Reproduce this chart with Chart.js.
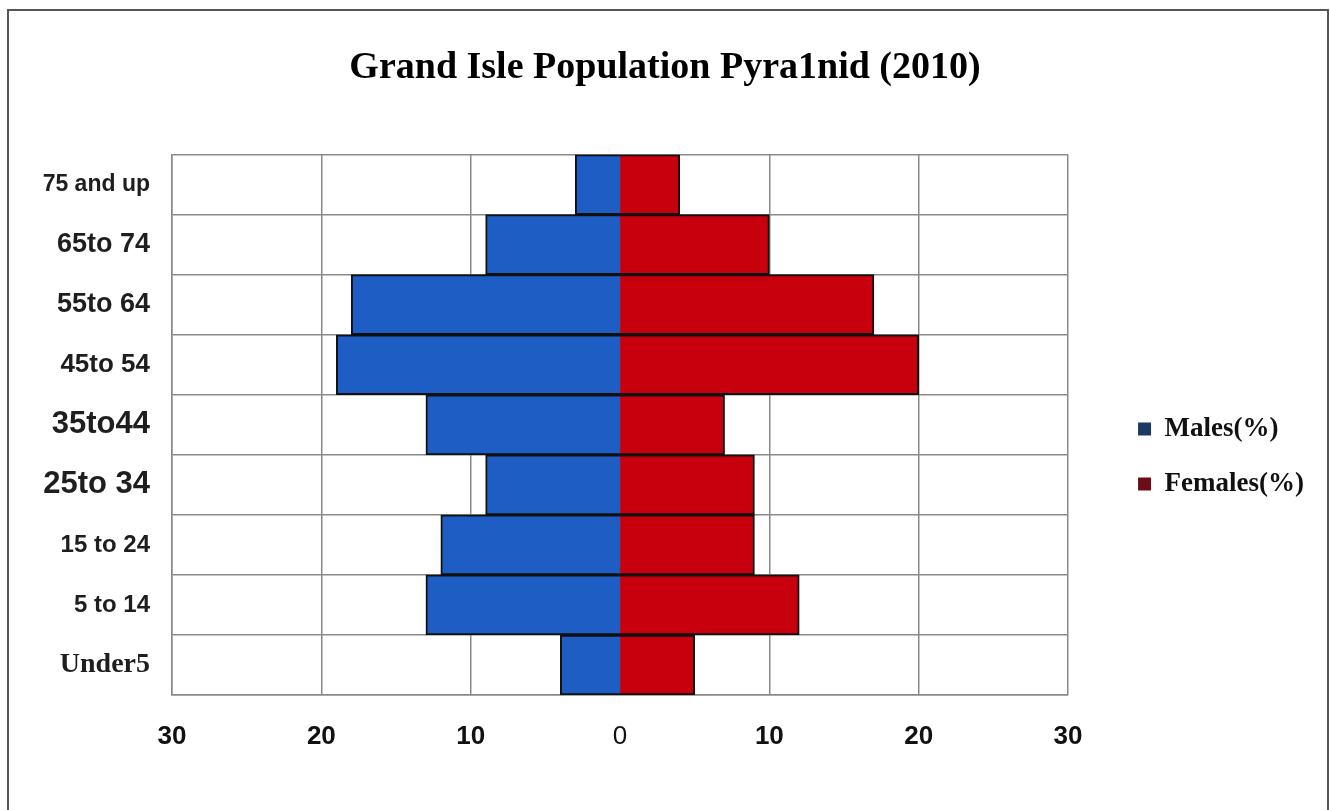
<!DOCTYPE html>
<html>
<head>
<meta charset="utf-8">
<title>Grand Isle Population Pyramid</title>
<script src="https://cdn.jsdelivr.net/npm/chart.js@4.4.1/dist/chart.umd.min.js"></script>
<style>
  html, body { margin: 0; padding: 0; background: #fff; overflow: hidden; }
  #wrap { position: relative; width: 1330px; height: 810px; }
  #frame {
    position: absolute; left: 7px; top: 9px; width: 1318px; height: 900px;
    border: 2px solid #555; pointer-events: none;
  }
</style>
</head>
<body>
<div id="wrap">
  <canvas id="pyramid" width="1330" height="810"></canvas>
  <div id="frame"></div>
</div>
<script>
// age groups, oldest first (top of the pyramid)
const ageGroups = ['75 and up', '65to 74', '55to 64', '45to 54', '35to44', '25to 34', '15 to 24', '5 to 14', 'Under5'];
const malesPct = [3, 9, 18, 19, 13, 9, 12, 13, 4];
const femalesPct = [4, 10, 17, 20, 7, 9, 9, 12, 5];
const xTicks = [-30, -20, -10, 0, 10, 20, 30];

// the scanned labels use a mix of sizes / faces
const ageLabelFonts = [
  { family: 'Liberation Sans', size: 23, weight: 'bold' },
  { family: 'Liberation Sans', size: 27, weight: 'bold' },
  { family: 'Liberation Sans', size: 27, weight: 'bold' },
  { family: 'Liberation Sans', size: 26, weight: 'bold' },
  { family: 'Liberation Sans', size: 31, weight: 'bold' },
  { family: 'Liberation Sans', size: 31, weight: 'bold' },
  { family: 'Liberation Sans', size: 24, weight: 'bold' },
  { family: 'Liberation Sans', size: 24, weight: 'bold' },
  { family: 'Liberation Serif', size: 28, weight: 'bold' }
];
const legendSwatch = ['#1b3962', '#6c0d15'];
const gridColor = '#8a8a8a';
const isZero = c => c.tick && c.tick.value === 0;

const ctx = document.getElementById('pyramid').getContext('2d');
const pyramid = new Chart(ctx, {
  type: 'bar',
  data: {
    labels: ageGroups,
    datasets: [{
      label: 'Males(%)',
      data: malesPct.map(v => -v),
      backgroundColor: '#1e5ec4',
      borderColor: '#111',
      borderWidth: 2
    }, {
      label: 'Females(%)',
      data: femalesPct,
      backgroundColor: '#c8000e',
      borderColor: '#111',
      borderWidth: 2
    }]
  },
  options: {
    indexAxis: 'y',
    responsive: false,
    animation: false,
    barPercentage: 1,
    categoryPercentage: 1,
    layout: { padding: { left: 16, right: 16, top: 0, bottom: 0 } },
    scales: {
      x: {
        stacked: true,
        min: -30,
        max: 30,
        afterBuildTicks: s => { s.ticks = xTicks.map(v => ({ value: v })); },
        afterFit: s => { s.height = 115; },
        grid: {
          // no zero line: the two halves of each bar meet there
          color: c => isZero(c) ? 'rgba(0,0,0,0)' : gridColor,
          lineWidth: c => isZero(c) ? 0 : 1.5,
          drawTicks: false
        },
        border: { color: gridColor, width: 1.5 },
        ticks: {
          padding: 26,
          color: '#111',
          callback: v => Math.abs(v),
          font: c => isZero(c)
            ? { family: 'Liberation Sans', size: 26, weight: 'normal' }
            : { family: 'Liberation Sans', size: 26, weight: 'bold' }
        }
      },
      y: {
        stacked: true,
        afterFit: s => { s.width = 156; },
        grid: { color: gridColor, lineWidth: 1.5, drawTicks: false },
        border: { color: gridColor, width: 1.5 },
        ticks: {
          padding: 22,
          color: '#1e1e1e',
          font: c => ageLabelFonts[c.index] || ageLabelFonts[0]
        }
      },
      // spacer between the plot and the legend
      gap: {
        type: 'linear',
        position: 'right',
        display: true,
        afterFit: s => { s.width = 42; },
        grid: { display: false },
        border: { display: false },
        ticks: { display: false }
      }
    },
    plugins: {
      title: {
        display: true,
        text: 'Grand Isle Population Pyra1nid (2010)',
        color: '#000',
        font: { family: 'Liberation Serif', size: 38, weight: 'bold' },
        padding: { top: 45, bottom: 64 }
      },
      legend: {
        position: 'right',
        fullSize: false,
        title: { display: true, text: '', padding: { top: 49, bottom: 0 }, font: { size: 12 } },
        labels: {
          boxWidth: 13,
          boxHeight: 13,
          padding: 28,
          color: '#111',
          font: { family: 'Liberation Serif', size: 27, weight: 'bold' },
          generateLabels: chart => {
            const items = Chart.defaults.plugins.legend.labels.generateLabels(chart);
            items.forEach((it, i) => {
              it.fillStyle = legendSwatch[i];
              it.strokeStyle = legendSwatch[i];
              it.lineWidth = 0;
            });
            return items;
          }
        }
      },
      tooltip: { enabled: false }
    }
  }
});
</script>
</body>
</html>
